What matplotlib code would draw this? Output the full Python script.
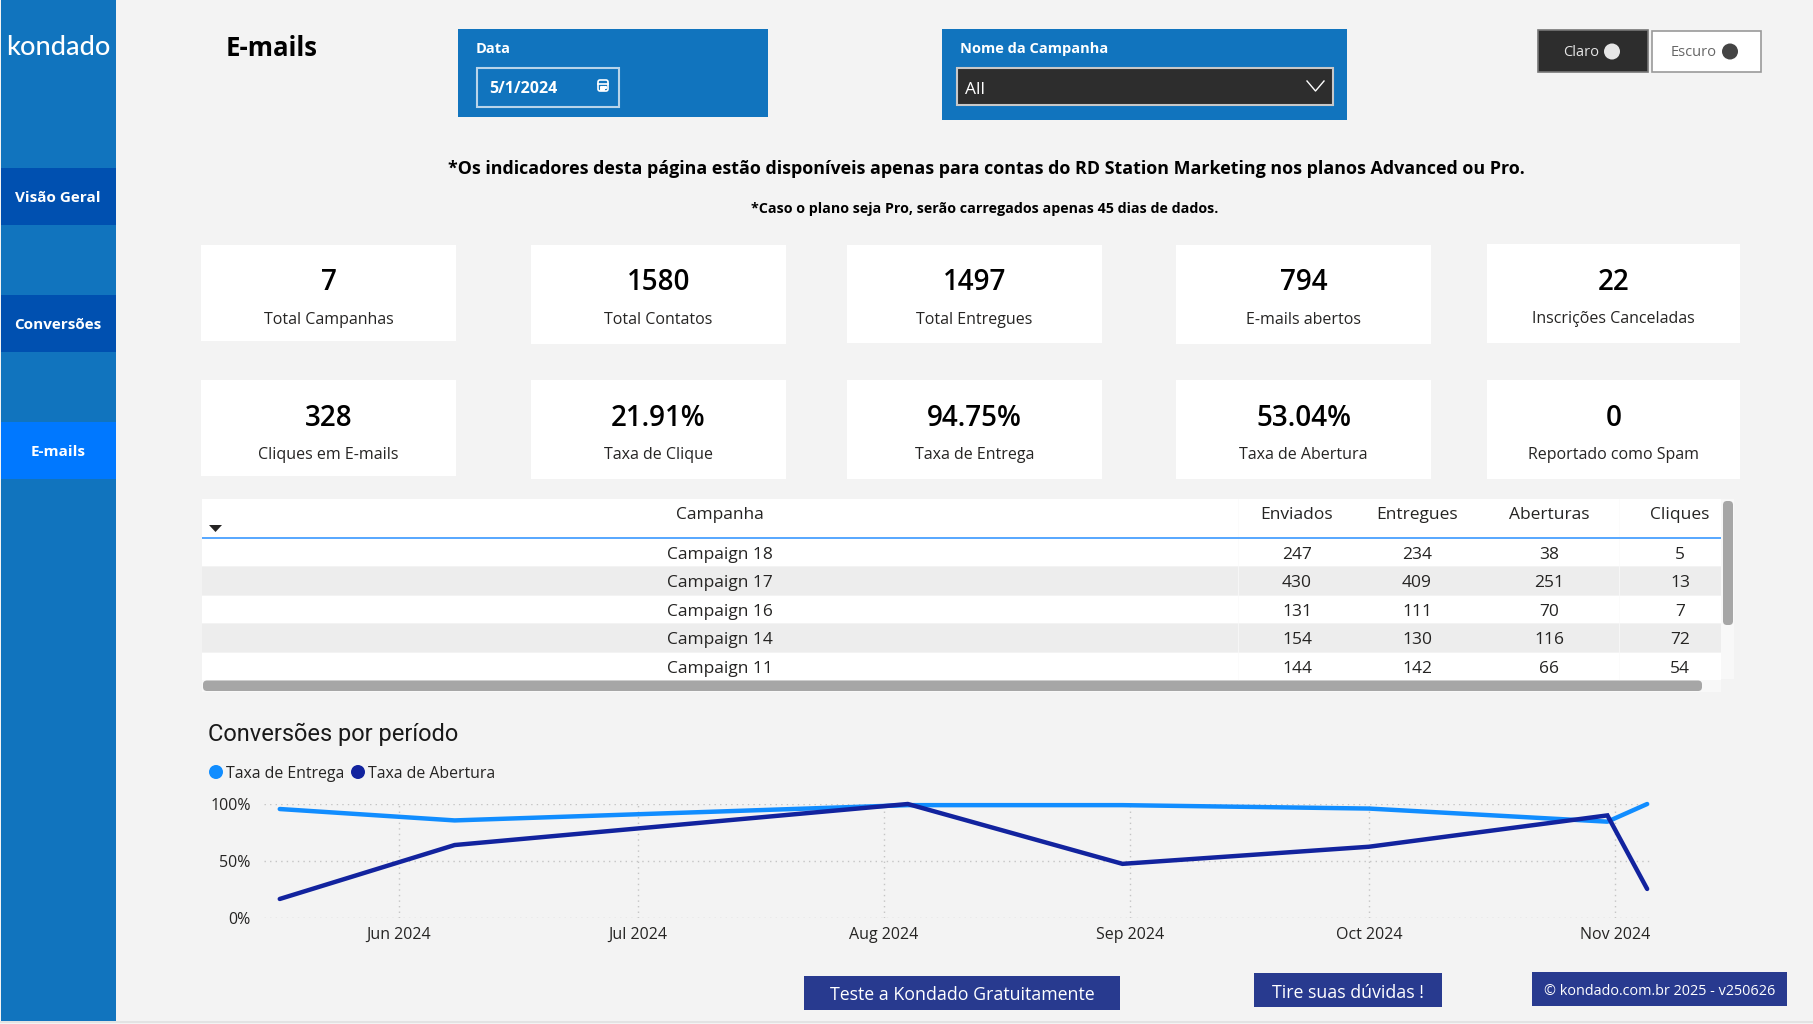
import datetime as dt
import matplotlib
matplotlib.use("Agg")
import matplotlib.pyplot as plt
import matplotlib.dates as mdates
from matplotlib.patches import Rectangle, FancyBboxPatch, Circle, Polygon

plt.rcParams['font.family'] = ['Open Sans', 'DejaVu Sans']

# ---------- data ----------
page_title = "E-mails"
nav_labels = ["Visão Geral", "Conversões", "E-mails"]
card_values = ["7", "1580", "1497", "794", "22", "328", "21.91%", "94.75%", "53.04%", "0"]
card_labels = ["Total Campanhas", "Total Contatos", "Total Entregues", "E-mails abertos",
               "Inscrições Canceladas", "Cliques em E-mails", "Taxa de Clique",
               "Taxa de Entrega", "Taxa de Abertura", "Reportado como Spam"]
table_headers = ["Campanha", "Enviados", "Entregues", "Aberturas", "Cliques"]
campaigns = ["Campaign 18", "Campaign 17", "Campaign 16", "Campaign 14", "Campaign 11"]
enviados = [247, 430, 131, 154, 144]
entregues = [234, 409, 111, 130, 142]
aberturas = [38, 251, 70, 116, 66]
cliques = [5, 13, 7, 72, 54]
dates = ["2024-05-17", "2024-06-08", "2024-08-04", "2024-08-31", "2024-10-01", "2024-10-31", "2024-11-05"]
taxa_entrega = [95.6, 85.6, 99, 99, 96, 84.5, 100]
taxa_abertura = [16.7, 64, 100, 47.5, 62.5, 90, 25.5]
month_ticks = ["2024-06-01", "2024-07-01", "2024-08-01", "2024-09-01", "2024-10-01", "2024-11-01"]
y_ticks = [0, 50, 100]

# ---------- palette ----------
BG = "#F3F3F3"; BLUE = "#1174BE"; NAV = "#0050B0"; NAV_ON = "#0078FF"
DARK = "#2D2D2D"; BTN = "#283A8F"; LINE1 = "#118DFF"; LINE2 = "#12239E"
TXT = "#252423"; SCROLL = "#A6A6A6"

fig = plt.figure(figsize=(18.13, 10.24), dpi=100, facecolor=BG)
ui = fig.add_axes([0, 0, 1, 1])
ui.set_xlim(0, 1813); ui.set_ylim(1024, 0); ui.axis("off")

def box(x0, y0, x1, y1, fc, ec="none", lw=0, z=1):
    ui.add_patch(Rectangle((x0, y0), x1 - x0, y1 - y0, fc=fc, ec=ec, lw=lw, zorder=z))

def txt(x, y, s, size, color="black", weight="normal", ha="center", family=None, z=5):
    kw = {"family": family} if family else {}
    ui.text(x, y + 1.5, s, fontsize=size, color=color, fontweight=weight, ha=ha, va="center", zorder=z, **kw)

# sidebar
box(1, 0, 116, 1021, BLUE)
box(0, 1021, 1813, 1023, "#E3E3E3")
txt(58, 46, "kondado", 19.5, "white", "medium", family="Lato")
nav_y = [(168, 225), (295, 352), (422, 479)]
nav_fc = [NAV, NAV, NAV_ON]
for lab, (y0, y1), fc in zip(nav_labels, nav_y, nav_fc):
    box(1, y0, 116, y1, fc)
    txt(58, (y0 + y1) / 2, lab, 11, "white", "bold")

txt(226, 47, page_title, 18.5, "black", "bold", ha="left")

# date slicer
box(458, 29, 768, 117, BLUE)
txt(476, 47.5, "Data", 10.5, "white", "bold", ha="left")
box(476.5, 67.5, 619, 106.5, "none", "#B8D4EA", 1.5, z=2)
txt(489, 87.5, "5/1/2024", 11.5, "white", "bold", ha="left")
ui.add_patch(FancyBboxPatch((598, 80), 10, 11, boxstyle="round,pad=0,rounding_size=2",
                            fc="none", ec="white", lw=1.2, zorder=3))
ui.plot([598, 608], [83.5, 83.5], color="white", lw=1.2, zorder=3)
ui.plot([601, 603, 605], [86.5, 86.5, 86.5], color="white", lw=0, marker="s", ms=1.2, zorder=3)
ui.plot([601, 603], [89, 89], color="white", lw=0, marker="s", ms=1.2, zorder=3)

# campaign slicer
box(942, 29, 1347, 119.5, BLUE)
txt(960, 47.5, "Nome da Campanha", 10.5, "white", "bold", ha="left")
box(956.5, 67.5, 1332.5, 104.5, DARK, "#C8C8C8", 1.5, z=2)
txt(965, 88.5, "All", 12.5, "white", ha="left")
ui.plot([1307, 1315.5, 1324], [81, 91, 81], color="white", lw=1, zorder=3)

# theme toggles
box(1537.5, 30, 1648, 72, DARK, "#777777", 1.2)
txt(1581, 50.5, "Claro", 10.5, "#E6E6E6")
ui.add_patch(Circle((1612, 51.5), 8, fc="#E6E6E6", ec="none", zorder=3))
box(1651.5, 30.5, 1761, 72, "white", "#999999", 1.2)
txt(1694, 50.5, "Escuro", 10.5, "#666666")
ui.add_patch(Circle((1730, 51.5), 8, fc="#444444", ec="none", zorder=3))

# notes
txt(986, 167.5, "*Os indicadores desta página estão disponíveis apenas para contas do RD Station Marketing nos planos Advanced ou Pro.",
    12.85, "black", "bold")
txt(985, 207, "*Caso o plano seja Pro, serão carregados apenas 45 dias de dados.", 10.25, "black", "bold")

# KPI cards
card_boxes = [(201, 245, 456, 341), (531, 245, 786, 344), (847, 245, 1102, 343), (1176, 245, 1431, 344),
              (1487, 244, 1740, 343), (201, 380, 456, 476), (531, 380, 786, 479), (847, 380, 1102, 479),
              (1176, 380, 1431, 479), (1487, 380, 1740, 479)]
for v, lab, (x0, y0, x1, y1) in zip(card_values, card_labels, card_boxes):
    box(x0, y0, x1, y1, "white")
    cx = (x0 + x1) / 2
    txt(cx, y0 + 36.5, v, 20, "black", "semibold")
    txt(cx, y0 + 73.5, lab, 11.5, "#252423")

# table
tx0, tx1 = 202, 1721
col_x = [720, 1297, 1417, 1549, 1680]
row_y = [(539, 566), (567, 595), (596, 623), (624, 652), (653, 680)]
row_fc = ["white", "#EDEDED", "white", "#EDEDED", "white"]
box(tx0, 499, tx1, 537, "white")
box(tx0, 537, tx1, 539, "#5AA9FF", z=2)
for hx, h in zip(col_x, table_headers):
    txt(hx, 513.5, h, 12.5, TXT)
ui.add_patch(Polygon([[209, 525], [222, 525], [215.5, 532]], closed=True, fc="#252423", ec="none", zorder=3))
rows = list(zip(campaigns, enviados, entregues, aberturas, cliques))
for (y0, y1), fc, row in zip(row_y, row_fc, rows):
    box(tx0, y0, tx1, y1, fc)
    for hx, val in zip(col_x, row):
        txt(hx, (y0 + y1) / 2 + 0.8, str(val), 12.5, TXT)
for dx in [1238, 1619]:
    ui.plot([dx, dx], [499, 680], color="#FAFAFA", lw=0.5, zorder=1.5)

box(tx1, 499, 1734, 679, "#F8F8F8")
box(202, 680, 1721, 692, "#F8F8F8")
ui.add_patch(FancyBboxPatch((1723, 501), 10, 124, boxstyle="round,pad=0,rounding_size=4", fc=SCROLL, ec="none", zorder=3))
ui.add_patch(FancyBboxPatch((203, 680.5), 1499, 10.5, boxstyle="round,pad=0,rounding_size=4", fc=SCROLL, ec="none", zorder=3))

# chart heading and legend
txt(208, 732.5, "Conversões por período", 17, "#1A1A1A", ha="left", family="Roboto")
ui.add_patch(Circle((216, 772), 7, fc=LINE1, ec="none", zorder=3))
txt(226, 772, "Taxa de Entrega", 11.4, TXT, ha="left")
ui.add_patch(Circle((358, 772), 7, fc=LINE2, ec="none", zorder=3))
txt(368, 772, "Taxa de Abertura", 11.4, TXT, ha="left")

# line chart
W, H = 1813.0, 1024.0
ax = fig.add_axes([264 / W, 1 - 918 / H, (1653 - 264) / W, (918 - 804) / H])
ax.patch.set_alpha(0)
xd = [dt.date.fromisoformat(d) for d in dates]
ticks = [dt.date.fromisoformat(d) for d in month_ticks]
t0 = mdates.date2num(ticks[0])
ax.set_xlim(t0 + (264 - 399) / 7.95, t0 + (1653 - 399) / 7.95)
ax.set_ylim(0, 100)
ax.plot(xd, taxa_entrega, color=LINE1, lw=3.2, clip_on=False, solid_capstyle="round", solid_joinstyle="round", zorder=3)
ax.plot(xd, taxa_abertura, color=LINE2, lw=3.2, clip_on=False, solid_capstyle="round", solid_joinstyle="miter", zorder=4)
ax.set_xticks(ticks)
ax.set_xticklabels([d.strftime("%b %Y") for d in ticks], va="baseline")
ax.set_yticks(y_ticks)
ax.set_yticklabels([f"{v}%" for v in y_ticks])
ax.grid(True, color="#C4C4C4", linestyle=(0, (1, 3)), lw=1)
ax.set_axisbelow(True)
ax.tick_params(length=0, labelsize=11.5, labelcolor=TXT)
ax.tick_params(axis="x", pad=15)
ax.tick_params(axis="y", pad=9.5)
for s in ax.spines.values():
    s.set_visible(False)

# footer buttons
footer = [(804, 976, 1120, 1010, "Teste a Kondado Gratuitamente", 12.8),
          (1254, 973, 1442, 1007, "Tire suas dúvidas !", 12.8),
          (1532, 972, 1787, 1006, "© kondado.com.br 2025 - v250626", 10.4)]
for x0, y0, x1, y1, s, fs in footer:
    box(x0, y0, x1, y1, BTN)
    txt((x0 + x1) / 2, (y0 + y1) / 2 + 1, s, fs, "white")

fig.savefig("out.png", dpi=100, facecolor=BG)
